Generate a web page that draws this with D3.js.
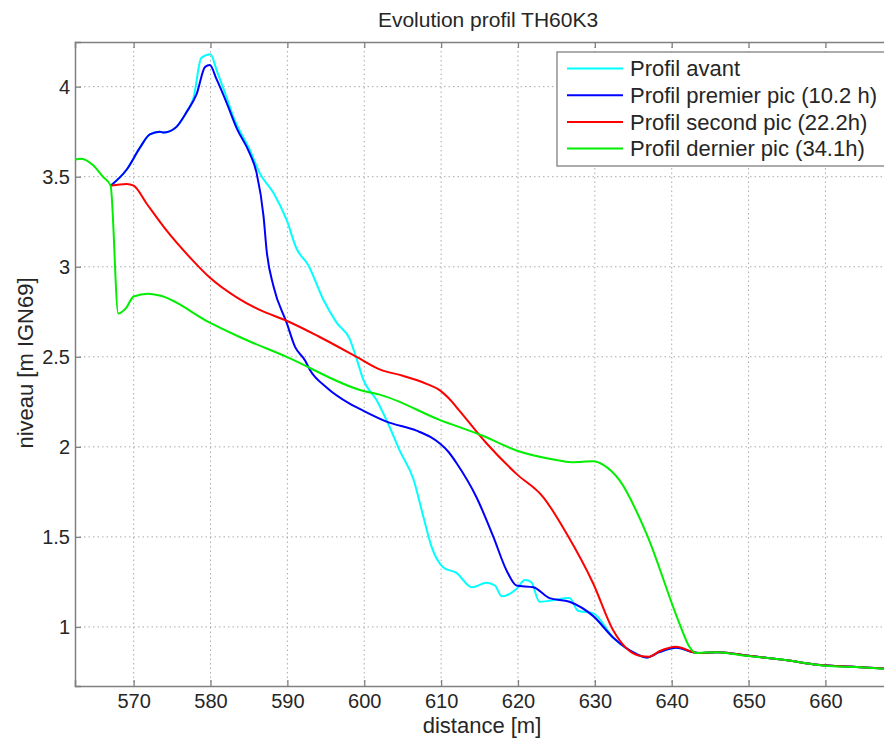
<!DOCTYPE html>
<html>
  <head>
    <meta charset="UTF-8" />
    <script src="https://cdn.jsdelivr.net/npm/d3@7"></script>
    <title>Evolution profil TH60K3</title>
    <style type="text/css">
      body { margin: 0; background: #fff; }
      text { font-family: "Liberation Sans", Arial, sans-serif; fill: #262626; }
    </style>
  </head>
  <body>
    <div id="chartcontainer"></div>
    <script>
      // profils [distance m, niveau m IGN69]
      const profilAvant = [
        [567.0, 3.45], [569.1, 3.54], [570.8, 3.66], [572.1, 3.735], [573.4, 3.75],
        [573.9, 3.745], [575.4, 3.77], [576.9, 3.86], [577.8, 3.94], [578.8, 4.16],
        [580.0, 4.18], [580.8, 4.09], [582.1, 3.94], [583.0, 3.83], [585.1, 3.65],
        [586.4, 3.52], [588.2, 3.41], [589.9, 3.26], [591.2, 3.1], [592.7, 3.01],
        [594.7, 2.815], [596.4, 2.69], [598.1, 2.6], [599.0, 2.49], [599.9, 2.37],
        [601.6, 2.26], [603.3, 2.11], [604.6, 1.98], [606.4, 1.82], [607.7, 1.61],
        [608.8, 1.44], [610.3, 1.33], [612.0, 1.3], [614.0, 1.22], [615.9, 1.245],
        [617.0, 1.23], [617.9, 1.17], [619.8, 1.21], [620.9, 1.26], [621.7, 1.25],
        [622.8, 1.14], [624.1, 1.145], [626.7, 1.16], [627.8, 1.09], [629.8, 1.075],
        [632.4, 0.94], [635.4, 0.85], [636.7, 0.83], [638.4, 0.86], [640.6, 0.885],
        [642.8, 0.86], [644.0, 0.855], [646.0, 0.86], [650.0, 0.84], [655.0, 0.815],
        [659.0, 0.79], [664.0, 0.778], [669.0, 0.765]
      ];
      const profilPremier = [
        [567.0, 3.45], [569.1, 3.54], [570.8, 3.66], [572.1, 3.735], [573.4, 3.75],
        [573.9, 3.745], [575.4, 3.77], [576.9, 3.86], [578.2, 3.96], [579.3, 4.11],
        [579.9, 4.12], [580.8, 4.04], [582.1, 3.91], [583.4, 3.77], [585.1, 3.63],
        [586.0, 3.52], [586.9, 3.28], [587.3, 3.09], [588.2, 2.89], [589.9, 2.69],
        [591.0, 2.555], [592.3, 2.48], [592.9, 2.43], [595.1, 2.33], [598.1, 2.24],
        [599.9, 2.2], [602.9, 2.14], [606.8, 2.09], [608.6, 2.055], [609.8, 2.02],
        [611.0, 1.97], [612.0, 1.91], [614.6, 1.72], [616.8, 1.5], [618.5, 1.315],
        [619.8, 1.23], [622.0, 1.22], [624.1, 1.16], [626.7, 1.14], [629.8, 1.06],
        [632.4, 0.94], [635.4, 0.85], [636.7, 0.83], [638.4, 0.86], [640.6, 0.885],
        [642.8, 0.86], [644.0, 0.855], [646.0, 0.86], [650.0, 0.84], [655.0, 0.815],
        [659.0, 0.79], [664.0, 0.778], [669.0, 0.765]
      ];
      const profilSecond = [
        [567.0, 3.45], [569.1, 3.46], [570.0, 3.45], [571.7, 3.35], [574.3, 3.2],
        [577.8, 3.03], [579.9, 2.94], [583.4, 2.83], [586.4, 2.76], [589.9, 2.7],
        [594.2, 2.61], [599.0, 2.5], [602.0, 2.43], [605.0, 2.395], [608.1, 2.35],
        [609.8, 2.315], [611.0, 2.27], [612.4, 2.2], [615.9, 2.02], [619.8, 1.85],
        [623.3, 1.72], [626.3, 1.52], [629.8, 1.24], [632.4, 0.98], [635.8, 0.84],
        [637.1, 0.835], [638.4, 0.865], [640.6, 0.89], [642.8, 0.86], [644.0, 0.855],
        [646.0, 0.86], [650.0, 0.84], [655.0, 0.815], [659.0, 0.79], [664.0, 0.778],
        [669.0, 0.765]
      ];
      const profilDernier = [
        [562.4, 3.595], [563.2, 3.6], [564.7, 3.565], [566.0, 3.5], [567.0, 3.45],
        [568.0, 2.74], [569.0, 2.77], [570.0, 2.835], [571.9, 2.85], [573.4, 2.84],
        [579.9, 2.69], [583.8, 2.61], [589.9, 2.5], [599.9, 2.31], [602.0, 2.29],
        [609.8, 2.15], [615.5, 2.06], [619.8, 1.98], [624.6, 1.93], [627.0, 1.915],
        [629.8, 1.92], [631.1, 1.9], [633.2, 1.815], [636.7, 1.52], [641.0, 1.02],
        [642.3, 0.89], [643.2, 0.855], [645.8, 0.86], [649.6, 0.84], [655.0, 0.815],
        [658.8, 0.79], [660.0, 0.785], [664.0, 0.777], [669.0, 0.765]
      ];

      const series = [profilAvant, profilPremier, profilSecond, profilDernier];
      const seriesNames = [
        "Profil avant",
        "Profil premier pic (10.2 h)",
        "Profil second pic (22.2h)",
        "Profil dernier pic (34.1h)"
      ];
      const seriesColors = ["#00ffff", "#0000ff", "#ff0000", "#00ee00"];
      const xTicks = [570, 580, 590, 600, 610, 620, 630, 640, 650, 660];
      const yTicks = [1, 1.5, 2, 2.5, 3, 3.5, 4];

      var margin = { top: 42, right: -16, bottom: 54, left: 75 },
        totalWidth = 884,
        totalHeight = 740,
        width = totalWidth - margin.left - margin.right,
        height = totalHeight - margin.top - margin.bottom;

      var svg = d3
        .select("#chartcontainer")
        .append("svg")
        .attr("width", totalWidth)
        .attr("height", totalHeight);

      var g = svg
        .append("g")
        .attr("transform", "translate(" + margin.left + "," + margin.top + ")");

      var x = d3.scaleLinear().domain([562.37, 669.7]).range([0, width]);
      var y = d3.scaleLinear().domain([0.672, 4.248]).range([height, 0]);

      // grille pointillée
      g.append("g")
        .selectAll("line")
        .data(xTicks)
        .join("line")
        .attr("x1", (d) => x(d))
        .attr("x2", (d) => x(d))
        .attr("y1", 0)
        .attr("y2", height)
        .attr("stroke", "#aaaaaa")
        .attr("stroke-dasharray", "1.5,3");
      g.append("g")
        .selectAll("line")
        .data(yTicks)
        .join("line")
        .attr("x1", 0)
        .attr("x2", width)
        .attr("y1", (d) => y(d))
        .attr("y2", (d) => y(d))
        .attr("stroke", "#aaaaaa")
        .attr("stroke-dasharray", "1.5,3");

      // axes (ticks vers l'intérieur, façon MATLAB)
      var xAxis = g
        .append("g")
        .attr("transform", "translate(0," + height + ")")
        .call(d3.axisBottom(x).tickValues(xTicks).tickSize(-6).tickPadding(8).tickFormat(d3.format("d")));
      var xAxisTop = g
        .append("g")
        .call(d3.axisTop(x).tickValues(xTicks).tickSize(-6).tickFormat(""));
      var yAxis = g
        .append("g")
        .call(d3.axisLeft(y).tickValues(yTicks).tickSize(-6).tickPadding(5).tickFormat((d) => String(d)));

      [xAxis, xAxisTop, yAxis].forEach(function (a) {
        a.select(".domain").attr("stroke", "#808080").attr("stroke-width", 1.5);
        a.selectAll(".tick line").attr("stroke", "#808080").attr("stroke-width", 1.3);
        a.selectAll(".tick text")
          .attr("fill", "#262626")
          .style("font-size", "20px")
          .style("font-family", '"Liberation Sans", Arial, sans-serif');
      });

      // courbes
      g.append("clipPath")
        .attr("id", "plotclip")
        .append("rect")
        .attr("width", width)
        .attr("height", height);

      var line = d3
        .line()
        .x((d) => x(d[0]))
        .y((d) => y(d[1]))
        .curve(d3.curveMonotoneX);

      g.append("g")
        .attr("clip-path", "url(#plotclip)")
        .selectAll("path")
        .data(series)
        .join("path")
        .attr("fill", "none")
        .attr("stroke", (d, i) => seriesColors[i])
        .attr("stroke-width", 2)
        .attr("stroke-linejoin", "round")
        .attr("d", line);

      // titre et libellés
      svg.append("text")
        .attr("x", 488)
        .attr("y", 27)
        .attr("text-anchor", "middle")
        .style("font-size", "21px")
        .text("Evolution profil TH60K3");

      svg.append("text")
        .attr("x", 482)
        .attr("y", 733)
        .attr("text-anchor", "middle")
        .style("font-size", "22px")
        .text("distance [m]");

      svg.append("text")
        .attr("transform", "translate(33,363) rotate(-90)")
        .attr("text-anchor", "middle")
        .style("font-size", "22px")
        .text("niveau [m IGN69]");

      // légende
      var legend = svg.append("g").attr("transform", "translate(557,52)");
      legend.append("rect")
        .attr("width", 340)
        .attr("height", 114)
        .attr("fill", "#fff")
        .attr("stroke", "#808080")
        .attr("stroke-width", 1.3);

      var rows = legend
        .selectAll("g.row")
        .data(seriesNames)
        .join("g")
        .attr("class", "row")
        .attr("transform", (d, i) => "translate(0," + (16.5 + i * 26.7) + ")");
      rows.append("line")
        .attr("x1", 10)
        .attr("x2", 66)
        .attr("stroke", (d, i) => seriesColors[i])
        .attr("stroke-width", 2);
      rows.append("text")
        .attr("x", 73)
        .attr("dy", "0.35em")
        .style("font-size", "22px")
        .text((d) => d);
    </script>
  </body>
</html>
